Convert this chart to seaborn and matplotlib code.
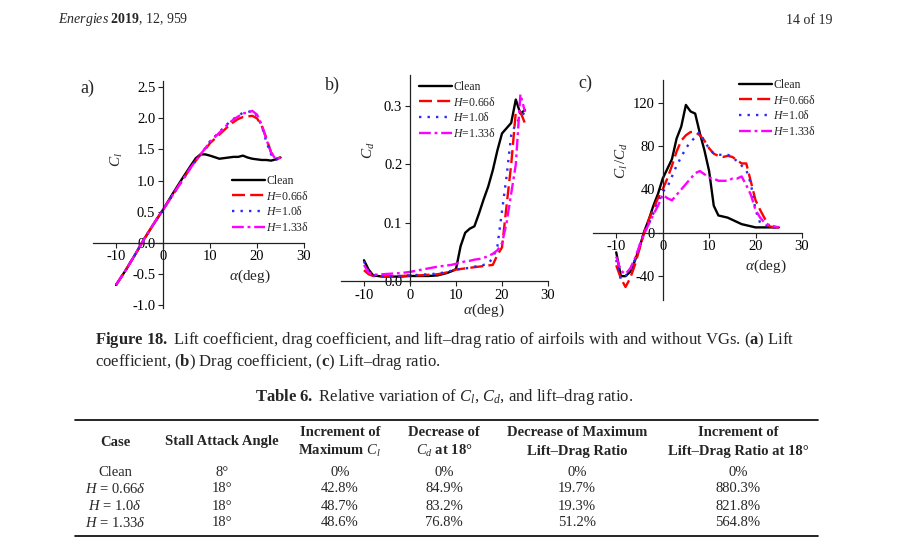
import matplotlib
matplotlib.use("Agg")
import matplotlib.pyplot as plt
import seaborn as sns
from matplotlib.lines import Line2D

# figure size in pixels, helpers to place things by pixel position
W, H = 913, 555


def fx(x):
    return x / W


def fy(y):
    return 1 - y / H


# ---------------- data ----------------
case_names = ["Clean", "$H$=0.66δ", "$H$=1.0δ", "$H$=1.33δ"]

# (a) lift coefficient
alpha_a = [-10, -8, -6, -4, -2, 0, 2, 4, 6, 7, 8, 9, 10, 12, 14, 15, 16, 17, 18, 19, 20, 21, 22, 23, 24, 25]
cl_clean = [-0.68, -0.45, -0.2, 0.06, 0.3, 0.53, 0.78, 1.02, 1.25, 1.36, 1.42, 1.42, 1.40, 1.35, 1.37, 1.38,
            1.38, 1.40, 1.37, 1.35, 1.34, 1.33, 1.33, 1.32, 1.34, 1.37]
cl_066 = [-0.68, -0.45, -0.2, 0.06, 0.3, 0.53, 0.76, 0.99, 1.22, 1.32, 1.42, 1.50, 1.60, 1.74, 1.88, 1.94,
          1.99, 2.02, 2.03, 2.04, 2.00, 1.88, 1.68, 1.45, 1.35, 1.37]
cl_100 = [-0.68, -0.45, -0.2, 0.06, 0.3, 0.53, 0.76, 0.99, 1.22, 1.32, 1.42, 1.52, 1.63, 1.78, 1.93, 1.99,
          2.04, 2.09, 2.10, 2.12, 2.04, 1.88, 1.62, 1.42, 1.33, 1.37]
cl_133 = [-0.68, -0.45, -0.2, 0.06, 0.3, 0.53, 0.76, 0.99, 1.22, 1.32, 1.42, 1.52, 1.62, 1.77, 1.92, 1.98,
          2.03, 2.08, 2.09, 2.12, 2.06, 1.90, 1.66, 1.45, 1.34, 1.37]

# (b) drag coefficient
alpha_b = [-10, -9, -8, -6, -4, -2, 0, 2, 4, 6, 8, 9, 10, 11, 12, 13, 14, 15, 16, 17, 18, 19, 20, 21, 22, 23, 24, 25]
cd_clean = [0.036, 0.020, 0.010, 0.008, 0.008, 0.008, 0.009, 0.009, 0.009, 0.010, 0.014, 0.017, 0.021, 0.060,
            0.083, 0.090, 0.094, 0.116, 0.140, 0.162, 0.190, 0.224, 0.253, 0.262, 0.271, 0.311, 0.287, 0.293]
cd_066 = [0.019, 0.012, 0.009, 0.008, 0.008, 0.009, 0.010, 0.010, 0.011, 0.012, 0.015, 0.017, 0.020, 0.021,
          0.022, 0.023, 0.024, 0.025, 0.026, 0.027, 0.028, 0.045, 0.058, 0.130, 0.200, 0.290, 0.290, 0.270]
cd_100 = [0.034, 0.016, 0.010, 0.009, 0.009, 0.009, 0.010, 0.011, 0.012, 0.013, 0.016, 0.018, 0.020, 0.021,
          0.022, 0.023, 0.025, 0.026, 0.028, 0.030, 0.040, 0.060, 0.120, 0.180, 0.250, 0.270, 0.280, 0.290]
cd_133 = [0.028, 0.015, 0.011, 0.012, 0.013, 0.014, 0.016, 0.019, 0.022, 0.025, 0.027, 0.028, 0.030, 0.032,
          0.034, 0.035, 0.037, 0.038, 0.040, 0.043, 0.047, 0.053, 0.065, 0.100, 0.150, 0.200, 0.320, 0.290]

# (c) lift-drag ratio
alpha_c = [-10, -9, -8, -7, -6, -5, -4, -3, -2, -1, 0, 1, 2, 3, 4, 5, 6, 7, 8, 9, 10, 11, 12, 13, 14, 15, 16,
           17, 18, 19, 20, 21, 22, 23, 24, 25]
ld_clean = [-18, -40, -40, -36, -26, -14, 1, 12, 25, 36, 50, 59, 68, 87, 98, 118, 112, 110, 92, 76, 57, 25, 16,
            15, 14, 12, 10, 8, 7, 6, 5, 5, 5, 5, 5, 5]
ld_066 = [-30, -42, -50, -42, -30, -15, 0, 12, 22, 32, 40, 50, 62, 75, 85, 90, 93, 93, 90, 85, 78, 73, 71, 70,
          71, 70, 67, 64, 64, 47, 30, 21, 13, 6, 5, 5]
ld_100 = [-25, -43, -40, -35, -25, -12, 0, 8, 18, 28, 38, 42, 52, 62, 70, 78, 84, 88, 93, 84, 78, 73, 72, 72,
          72, 70, 66, 62, 58, 45, 21, 9, 7, 6, 5, 5]
ld_133 = [-22, -35, -38, -33, -24, -12, -1, 8, 17, 25, 35, 32, 30, 35, 40, 45, 50, 55, 57, 54, 51, 50, 48, 48,
          48, 50, 50, 52, 44, 35, 21, 14, 9, 7, 6, 5]

# table 6
table_header = [["Case"], ["Stall Attack Angle"], ["Increment of", "Maximum $C_l$"],
                ["Decrease of", "$C_d$ at 18°"], ["Decrease of Maximum", "Lift–Drag Ratio"],
                ["Increment of", "Lift–Drag Ratio at 18°"]]
table_cases = ["Clean", "$H$ = 0.66$δ$", "$H$ = 1.0$δ$", "$H$ = 1.33$δ$"]
stall_angle = ["8°", "18°", "18°", "18°"]
inc_max_cl = ["0%", "42.8%", "48.7%", "48.6%"]
dec_cd_18 = ["0%", "84.9%", "83.2%", "76.8%"]
dec_max_ld = ["0%", "19.7%", "19.3%", "51.2%"]
inc_ld_18 = ["0%", "880.3%", "821.8%", "564.8%"]

# ---------------- style ----------------
sns.set_theme(style="ticks")
plt.rcParams['font.family'] = ['Liberation Serif', 'DejaVu Serif']
plt.rcParams['mathtext.fontset'] = 'custom'
plt.rcParams['mathtext.rm'] = 'Liberation Serif'
plt.rcParams['mathtext.it'] = 'Liberation Serif:italic'
plt.rcParams['mathtext.bf'] = 'Liberation Serif:bold'
plt.rcParams['axes.unicode_minus'] = False

colors = ["black", "#ff0000", "#2a2aff", "#ff00ff"]
styles = ["-", (0, (5.5, 2.2)), (0, (1, 2.6)), (0, (5, 1.6, 1.2, 1.6))]

fig = plt.figure(figsize=(W / 100, H / 100), dpi=100)


def make_axes(left, right, top, bottom):
    return fig.add_axes([fx(left), fy(bottom), fx(right) - fx(left), fy(top) - fy(bottom)])


def draw_panel(ax, x, series, xlim, ylim, yticks, yfmt):
    for vals, name, c, ls in zip(series, case_names, colors, styles):
        sns.lineplot(x=x, y=vals, ax=ax, color=c, linestyle=ls, linewidth=1.7, label=name)
    ax.set_xlim(*xlim)
    ax.set_ylim(*ylim)
    ax.set_xticks([-10, 0, 10, 20, 30])
    ax.set_yticks(yticks)
    ax.set_yticklabels([yfmt.format(v) for v in yticks])
    ax.spines['left'].set_position(('data', 0))
    ax.spines['bottom'].set_position(('data', 0))
    ax.spines['top'].set_visible(False)
    ax.spines['right'].set_visible(False)
    for s in ['left', 'bottom']:
        ax.spines[s].set_color('#222222')
        ax.spines[s].set_linewidth(0.9)
    ax.tick_params(direction='out', length=3.5, width=0.8, labelsize=10.5, pad=2, colors='#222222',
                   labelcolor='black')
    ax.set_xlabel('')
    ax.set_ylabel('')
    ax.patch.set_alpha(0)


def place_legend(ax, x, y):
    ax.legend(loc='upper left', bbox_to_anchor=(fx(x), fy(y)), bbox_transform=fig.transFigure,
              frameon=False, fontsize=8.5, handlelength=2.8, handletextpad=0.1, labelspacing=0.22,
              borderaxespad=0, borderpad=0)


# (a)
ax_a = make_axes(92.5, 304, 81, 308)
draw_panel(ax_a, alpha_a, [cl_clean, cl_066, cl_100, cl_133], (-15, 30), (-1.05, 2.6),
           [-1.0, -0.5, 0.0, 0.5, 1.0, 1.5, 2.0, 2.5], "{:.1f}")
place_legend(ax_a, 232, 175)

# (b)
ax_b = make_axes(341, 548, 75, 283)
draw_panel(ax_b, alpha_b, [cd_clean, cd_066, cd_100, cd_133], (-15, 30), (-0.003, 0.353),
           [0.0, 0.1, 0.2, 0.3], "{:.1f}")
place_legend(ax_b, 419, 81)

# (c)
ax_c = make_axes(593, 802, 80, 300)
draw_panel(ax_c, alpha_c, [ld_clean, ld_066, ld_100, ld_133], (-15, 30), (-62, 141),
           [-40, 0, 40, 80, 120], "{:d}")
place_legend(ax_c, 739, 79)

# panel letters and axis titles
for txt, x, y in [("a)", 80, 88), ("b)", 325, 85), ("c)", 578, 83)]:
    fig.text(fx(x), fy(y), txt, fontsize=13, ha='left', va='center')
for txt, x, y in [("$C_l$", 117, 160), ("$C_d$", 369, 150), ("$C_l\\,/C_d$", 622, 160)]:
    fig.text(fx(x), fy(y), txt, fontsize=11, ha='center', va='center', rotation=90)
for x, y in [(250, 276), (484, 310), (766, 266)]:
    fig.text(fx(x), fy(y), "$α$(deg)", fontsize=11, ha='center', va='center')

# page header
fig.text(fx(58), fy(20), "$\\mathit{Energies}$ $\\mathbf{2019}$, $\\mathit{12}$, 959", fontsize=10,
         ha='left', va='center')
fig.text(fx(832), fy(20), "14 of 19", fontsize=10, ha='right', va='center')

# caption
fig.text(fx(95), fy(340), "$\\mathbf{Figure\\ 18.}$ Lift coefficient, drag coefficient, and lift–drag ratio "
         "of airfoils with and without VGs. ($\\mathbf{a}$) Lift", fontsize=12, ha='left', va='center')
fig.text(fx(95), fy(362), "coefficient, ($\\mathbf{b}$) Drag coefficient, ($\\mathbf{c}$) Lift–drag ratio.",
         fontsize=12, ha='left', va='center')
fig.text(fx(444), fy(397), "$\\mathbf{Table\\ 6.}$ Relative variation of $C_l$, $C_d$, and lift–drag ratio.",
         fontsize=12, ha='center', va='center')

# table
col_x = [115, 222, 340, 444, 577, 738]
fig.add_artist(Line2D([fx(75), fx(818)], [fy(420), fy(420)], color='black', lw=1.2))
fig.add_artist(Line2D([fx(75), fx(818)], [fy(536), fy(536)], color='black', lw=1.2))
for cx, lines in zip(col_x, table_header):
    if len(lines) == 1:
        fig.text(fx(cx), fy(442), lines[0], fontsize=10.5, fontweight='bold', ha='center', va='center')
    else:
        for ln, yy in zip(lines, [433, 451]):
            fig.text(fx(cx), fy(yy), ln, fontsize=10.5, fontweight='bold', ha='center', va='center')
row_y = [472, 489, 506, 523]
columns = [table_cases, stall_angle, inc_max_cl, dec_cd_18, dec_max_ld, inc_ld_18]
for cx, col in zip(col_x, columns):
    for val, yy in zip(col, row_y):
        fig.text(fx(cx), fy(yy), val, fontsize=10.5, ha='center', va='center')

fig.savefig("out.png", dpi=100)
